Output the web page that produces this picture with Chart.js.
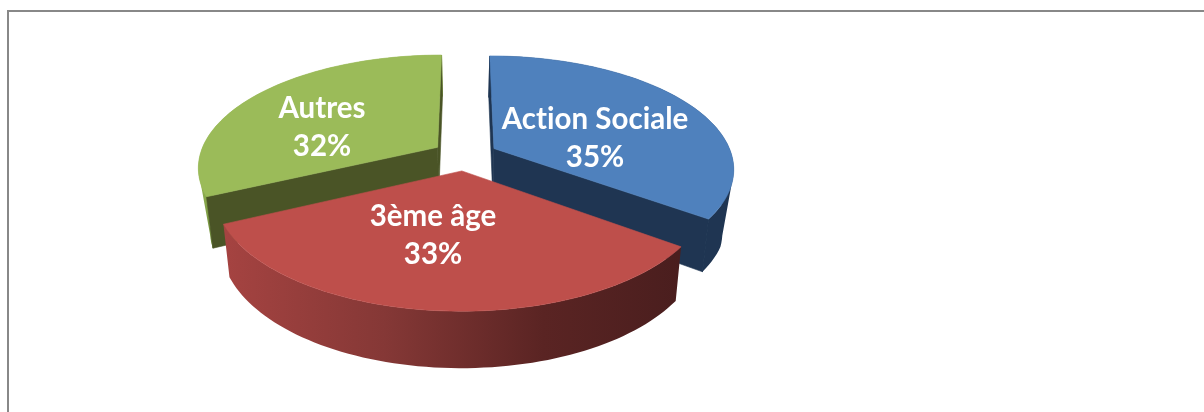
<!DOCTYPE html>
<html>
<head>
<meta charset="utf-8">
<script src="https://cdn.jsdelivr.net/npm/chart.js@4"></script>
<style>
  html, body { margin: 0; background: #fff; overflow: hidden; }
  canvas { display: block; }
</style>
</head>
<body>
<canvas id="pie3d" width="1204" height="412"></canvas>
<script>
const categories = ['Action Sociale', '3ème âge', 'Autres'];
const shares = [35, 33, 32];

// slice colours: top face, outer wall, cut face
const topColors = ['#4f81bd', '#be4f4b', '#9bbb59'];
const wallColors = ['#1f3552', null, null];
const cutColors = ['#1f3552', '#4d1f1f', '#4a5426'];

// centre of each two-line label
const labelCenters = [[595, 138], [433, 235], [322, 127]];

// perspective of the pie plane, radius 1 = slice radius
const view = { cx: 465, cy: 155.4, sx: 238, sy: 110.5, k: 0.17, explode: 0.138 };

function project(x, d, lower) {
  const w = 1 - view.k * d;
  let px = x * view.sx / w;
  let py = d * view.sy / w;
  if (lower) {
    // the underside sits a little narrower, more so towards the back
    px *= Math.max(0.96, Math.min(0.975, 0.94 + 0.1 * d));
    py += 49 + 7 * d;
  }
  return [view.cx + px, view.cy + py];
}

function addPolygon(ctx, pts) {
  pts.forEach((p, i) => (i ? ctx.lineTo(p[0], p[1]) : ctx.moveTo(p[0], p[1])));
  ctx.closePath();
}

function fillPolygon(ctx, pts, fill) {
  ctx.fillStyle = fill;
  ctx.strokeStyle = fill;
  ctx.lineWidth = 0.6;
  ctx.beginPath();
  addPolygon(ctx, pts);
  ctx.fill();
  ctx.stroke();
}

function signedArea(pts) {
  let sum = 0;
  pts.forEach((p, i) => {
    const q = pts[(i + 1) % pts.length];
    sum += p[0] * q[1] - q[0] * p[1];
  });
  return sum;
}

function wallFill(ctx, i) {
  if (wallColors[i]) return wallColors[i];
  // 3ème âge wall darkens left to right, Autres wall darkens downwards
  if (i === 1) {
    const g = ctx.createLinearGradient(225, 0, 680, 0);
    g.addColorStop(0, '#a54341');
    g.addColorStop(0.35, '#853836');
    g.addColorStop(0.7, '#5a2423');
    g.addColorStop(1, '#4a1e1e');
    return g;
  }
  const g = ctx.createLinearGradient(0, 165, 0, 250);
  g.addColorStop(0, '#9bbb59');
  g.addColorStop(1, '#6c8a38');
  return g;
}

function drawSlice(ctx, arc, i) {
  const start = arc.startAngle;
  const end = arc.endAngle;
  const mid = (start + end) / 2;
  const ox = Math.cos(mid) * view.explode;
  const od = Math.sin(mid) * view.explode;

  const steps = 72;
  const rim = [];
  for (let s = 0; s <= steps; s++) {
    const a = start + (end - start) * s / steps;
    rim.push([ox + Math.cos(a), od + Math.sin(a)]);
  }
  const upper = rim.map(p => project(p[0], p[1], false));
  const lower = rim.map(p => project(p[0], p[1], true));
  const apexUp = project(ox, od, false);
  const apexLow = project(ox, od, true);

  // outer wall: quads wound the same way in one path, so folds stay filled
  const wall = wallFill(ctx, i);
  ctx.fillStyle = wall;
  ctx.beginPath();
  for (let s = 0; s < steps; s++) {
    const quad = [upper[s], upper[s + 1], lower[s + 1], lower[s]];
    addPolygon(ctx, signedArea(quad) < 0 ? quad.reverse() : quad);
  }
  ctx.fill();

  // cut faces, only those turned towards the viewer
  const eye = [0, 1 / view.k];
  const faces = [
    { n: start - Math.PI / 2, up: upper[0], low: lower[0] },
    { n: end + Math.PI / 2, up: upper[steps], low: lower[steps] }
  ];
  faces.forEach(f => {
    const facing = Math.cos(f.n) * (eye[0] - ox) + Math.sin(f.n) * (eye[1] - od);
    if (facing > 0) {
      // close the hairline between wall and face
      ctx.strokeStyle = wall;
      ctx.lineWidth = 1;
      ctx.beginPath();
      ctx.moveTo(f.up[0], f.up[1]);
      ctx.lineTo(f.low[0], f.low[1]);
      ctx.stroke();
      fillPolygon(ctx, [apexUp, f.up, f.low, apexLow], cutColors[i]);
    }
  });

  // top face
  fillPolygon(ctx, [apexUp].concat(upper), topColors[i]);
}

const pie3d = {
  id: 'pie3d',
  beforeDraw(chart) {
    // chart frame, open on the right and bottom
    const ctx = chart.ctx;
    ctx.save();
    ctx.strokeStyle = '#888888';
    ctx.lineWidth = 2;
    ctx.beginPath();
    ctx.moveTo(8, 412);
    ctx.lineTo(8, 11);
    ctx.lineTo(1204, 11);
    ctx.stroke();
    ctx.restore();
  },
  beforeDatasetDraw(chart) {
    const ctx = chart.ctx;
    const arcs = chart.getDatasetMeta(0).data;
    ctx.save();
    // back slices first, the front one overlaps them
    [2, 0, 1].forEach(i => drawSlice(ctx, arcs[i], i));
    ctx.fillStyle = '#ffffff';
    ctx.font = 'bold 29.5px Lato';
    ctx.letterSpacing = '0.01px'; // keeps the "ti" in Action unligatured
    ctx.textAlign = 'center';
    ctx.textBaseline = 'middle';
    categories.forEach((name, i) => {
      const [x, y] = labelCenters[i];
      ctx.fillText(name, x, y - 19);
      ctx.fillText(shares[i] + '%', x, y + 19);
    });
    ctx.restore();
    return false;
  }
};

new Chart(document.getElementById('pie3d'), {
  type: 'pie',
  data: {
    labels: categories,
    datasets: [{ data: shares, backgroundColor: topColors, borderWidth: 0 }]
  },
  options: {
    responsive: false,
    animation: false,
    plugins: { legend: { display: false }, tooltip: { enabled: false } }
  },
  plugins: [pie3d]
});
</script>
</body>
</html>
